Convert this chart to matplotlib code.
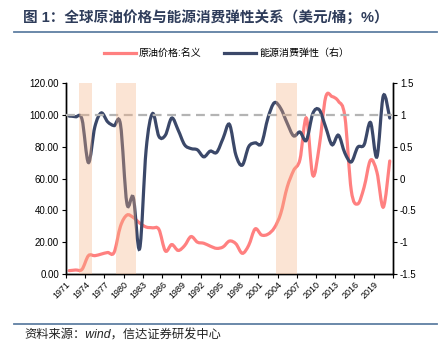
import numpy as np
import matplotlib
matplotlib.use('Agg')
import matplotlib.pyplot as plt
from matplotlib.path import Path
from matplotlib.patches import PathPatch
from matplotlib.lines import Line2D

plt.rcParams['font.family'] = ['Liberation Sans', 'Noto Sans CJK SC', 'DejaVu Sans']

years = list(range(1971, 2022))

# 原油价格:名义 (美元/桶), 左轴
oil_price = [2.1, 2.5, 2.9, 11.5, 11.5, 12.5, 13.5, 13.5, 30.0, 37.0,
             35.5, 32.0, 29.5, 29.0, 28.0, 14.5, 18.5, 14.8, 17.8, 23.5,
             20.0, 19.3, 17.5, 16.1, 17.0, 20.7, 19.0, 13.0, 18.0, 28.3,
             24.5, 25.0, 29.0, 38.0, 54.5, 65.0, 72.0, 98.0, 62.0, 80.0,
             111.0, 111.5, 108.5, 99.0, 52.5, 44.0, 54.5, 71.5, 64.0, 42.0,
             71.0]

# 能源消费弹性, 右轴
elasticity = [0.98, 0.97, 0.93, 0.25, 0.81, 1.03, 0.89, 0.83, 0.85, -0.39,
              -0.30, -1.10, 0.45, 1.02, 0.66, 0.68, 0.95, 0.76, 0.53, 0.47,
              0.45, 0.34, 0.43, 0.41, 0.63, 0.85, 0.37, 0.21, 0.50, 0.56,
              0.55, 0.95, 1.19, 1.10, 0.87, 0.67, 0.73, 0.60, 1.02, 1.08,
              0.81, 0.53, 0.68, 0.40, 0.26, 0.49, 0.53, 0.88, 0.34, 1.30,
              0.95]

# 阴影区间 (年份)
shade_periods = [(1972.6, 1974.5), (1978.3, 1981.5), (2003.3, 2006.6)]

tick_labels = [str(y) for y in range(1971, 2020, 3)]

RED = '#FF8080'
NAVY = '#3B4869'
SLATE = '#5F7FA3'


def smooth_path(x, y):
    # Catmull-Rom style smoothing like Excel smoothed lines
    x = np.asarray(x, float)
    y = np.asarray(y, float)
    pts = np.column_stack([x, y])
    n = len(pts)
    verts = [pts[0]]
    codes = [Path.MOVETO]
    for i in range(n - 1):
        p0 = pts[i - 1] if i > 0 else pts[i]
        p1 = pts[i]
        p2 = pts[i + 1]
        p3 = pts[i + 2] if i + 2 < n else pts[i + 1]
        c1 = p1 + (p2 - p0) / 6.0
        c2 = p2 - (p3 - p1) / 6.0
        verts += [c1, c2, p2]
        codes += [Path.CURVE4] * 3
    return Path(verts, codes)


fig = plt.figure(figsize=(4.44, 3.51), dpi=100)
ax = fig.add_axes([0.1486, 0.2194, 0.7364, 0.5441])
ax2 = ax.twinx()

ax.add_patch(PathPatch(smooth_path(years, oil_price), fill=False,
                       edgecolor=RED, lw=2.3, capstyle='round', zorder=2))
ax2.add_patch(PathPatch(smooth_path(years, elasticity), fill=False,
                        edgecolor=NAVY, lw=2.3, capstyle='round', zorder=2))
ax2.axhline(1.0, color='#B4B4B4', lw=1.6, ls=(0, (4, 2.5)), zorder=3)

for a, b in shade_periods:
    ax2.axvspan(a, b, color=(246 / 255, 178 / 255, 132 / 255), alpha=0.35,
                lw=0, zorder=4)

ax.set_xlim(1970.5, 2021.5)
ax.set_ylim(0, 120)
ax2.set_ylim(-1.5, 1.5)

ax.set_yticks(np.arange(0, 121, 20))
ax.set_yticklabels([f'{v:.2f}' for v in np.arange(0, 121, 20)])
ax2.set_yticks([-1.5, -1, -0.5, 0, 0.5, 1, 1.5])
ax2.set_yticklabels(['-1.5', '-1', '-0.5', '0', '0.5', '1', '1.5'])

xt = np.arange(1970.5, 2022, 3)
ax.set_xticks(xt)
ax.set_xticklabels(tick_labels + [''] * (len(xt) - len(tick_labels)),
                   rotation=45, ha='right', rotation_mode='anchor')

for a_ in (ax, ax2):
    a_.spines['top'].set_visible(False)
    for s in ('left', 'right', 'bottom'):
        a_.spines[s].set_linewidth(1.0)
        a_.spines[s].set_color('black')
    a_.tick_params(labelsize=7, length=3, width=0.8, direction='out',
                   colors='black', pad=2)
ax.tick_params(axis='x', labelsize=6.5, pad=1)

# 图例
handles = [Line2D([], [], color=RED, lw=2.3),
           Line2D([], [], color=NAVY, lw=2.3)]
fig.legend(handles, ['原油价格:名义', '能源消费弹性（右）'], loc='center',
           bbox_to_anchor=(0.51, 0.849), ncol=2, frameon=False, fontsize=7.2,
           handlelength=3.2, handletextpad=0.3, columnspacing=2.3)

# 标题与分隔线
fig.text(0.052, 0.948, '图 1：全球原油价格与能源消费弹性关系（美元/桶；%）',
         fontsize=10.5, fontweight='bold', color='#2E3C5A', va='center')
fig.add_artist(Line2D([0.032, 0.984], [0.909, 0.909], color=SLATE, lw=1.3))
fig.add_artist(Line2D([0.032, 0.984], [0.077, 0.077], color=SLATE, lw=1.3))
fig.text(0.056, 0.043, '资料来源：wind，信达证券研发中心', fontsize=8.8,
         style='italic', color='#222222', va='center')

fig.savefig('out.png', dpi=100)
